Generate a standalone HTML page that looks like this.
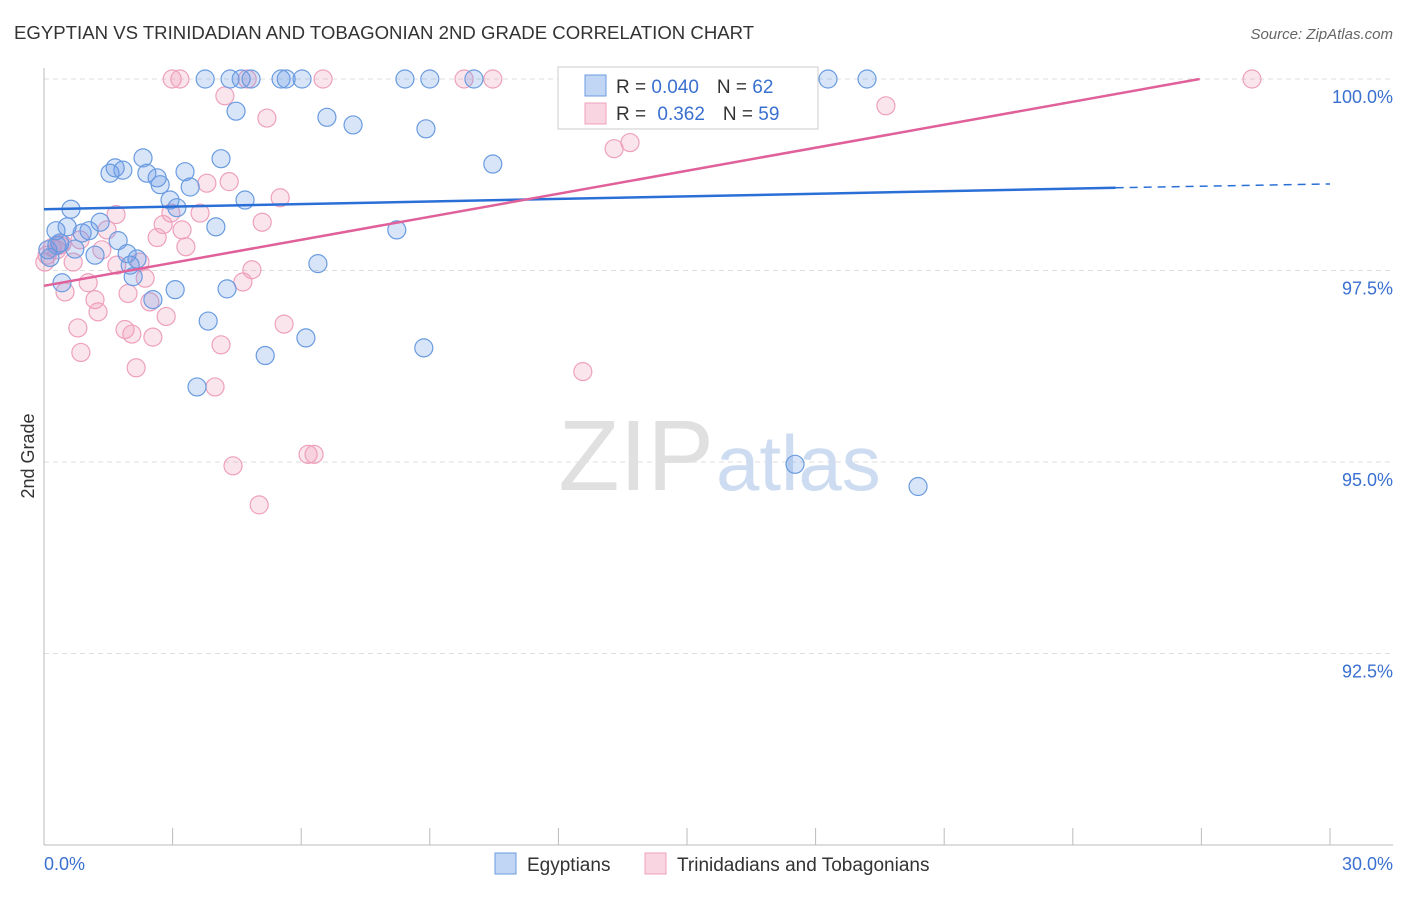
<!DOCTYPE html>
<html><head><meta charset="utf-8">
<style>
body{margin:0;background:#fff;font-family:"Liberation Sans",sans-serif;}
svg text{font-family:"Liberation Sans",sans-serif;}
</style></head>
<body>
<svg id="chart" width="1406" height="892" viewBox="0 0 1406 892">
<text x="14" y="39" font-size="18.6" fill="#333">EGYPTIAN VS TRINIDADIAN AND TOBAGONIAN 2ND GRADE CORRELATION CHART</text>
<text x="1393" y="39" font-size="15" fill="#666" font-style="italic" text-anchor="end">Source: ZipAtlas.com</text>
<text x="34" y="456" font-size="18" fill="#333" text-anchor="middle" transform="rotate(-90 34 456)">2nd Grade</text>
<g id="grid"></g>
<g id="axes"></g>
<text x="714" y="490" font-size="100" fill="#e0e0e0" font-family="Liberation Serif" text-anchor="end">ZIP</text>
<text x="716" y="490" font-size="78" fill="#cddcf0" text-anchor="start">atlas</text>
<g id="points"></g>
<g id="trends"></g>
<g>
<rect x="558" y="67" width="260" height="62" fill="#fff" stroke="#ccc"/>
<rect x="585" y="75" width="21" height="21" fill="rgba(100,150,230,0.4)" stroke="#6a9be0"/>
<rect x="585" y="103" width="21" height="21" fill="rgba(240,150,180,0.4)" stroke="#eea0bd"/>
<text x="616" y="93" font-size="19" fill="#333">R = <tspan fill="#3a70d0">0.040</tspan><tspan dx="18">N = </tspan><tspan fill="#3a70d0">62</tspan></text>
<text x="616" y="120" font-size="19" fill="#333">R = <tspan dx="6" fill="#3a70d0">0.362</tspan><tspan dx="18">N = </tspan><tspan fill="#3a70d0">59</tspan></text>
</g>
<g>
<rect x="495" y="853" width="21" height="21" fill="rgba(100,150,230,0.4)" stroke="#6a9be0"/>
<text x="527" y="871" font-size="19" fill="#333">Egyptians</text>
<rect x="645" y="853" width="21" height="21" fill="rgba(240,150,180,0.4)" stroke="#eea0bd"/>
<text x="677" y="871" font-size="19" fill="#333">Trinidadians and Tobagonians</text>
</g>
</svg>
<script>
const blueX=[0.37,0.28,0.54,0.63,0.42,0.72,0.89,1.05,1.19,1.31,1.54,1.66,1.84,1.73,2.01,1.94,2.31,2.40,2.64,2.71,2.17,2.08,2.54,2.94,3.10,3.06,3.29,3.41,4.13,3.83,3.57,4.01,4.27,4.69,4.48,4.34,4.60,4.83,3.76,5.16,5.53,5.65,6.02,6.60,7.21,6.11,6.39,8.23,8.42,9.00,8.91,8.86,10.03,10.47,13.46,18.29,19.20,17.52,20.39,0.09,0.14,0.30];
const blueY=[97.86,98.02,98.07,98.30,97.34,97.78,97.99,98.02,97.70,98.13,98.77,98.84,98.81,97.89,97.57,97.72,98.97,98.77,98.71,98.62,97.65,97.42,97.12,98.42,98.32,97.25,98.79,98.59,98.96,96.84,95.98,98.07,97.26,98.42,99.58,100,100,100,100,96.39,100,100,100,99.50,99.40,96.62,97.59,98.03,100,100,99.35,96.49,100,98.89,100,100,100,94.97,94.68,97.77,97.67,97.83];
const pinkX=[0.07,0.19,0.30,0.42,0.68,0.49,0.79,0.86,1.19,1.26,1.03,1.35,1.47,1.68,1.70,1.89,1.96,2.05,2.15,2.24,2.36,2.47,2.54,2.64,2.78,2.85,2.96,3.22,3.31,3.64,3.80,3.99,4.13,4.32,4.22,4.41,5.02,4.64,4.85,5.09,5.20,5.51,5.60,6.16,6.30,2.99,3.17,4.74,6.51,9.80,10.47,12.57,13.30,13.67,19.64,28.18,0.84,0.37,0.02];
const pinkY=[97.70,97.80,97.77,97.85,97.61,97.22,96.75,96.43,97.12,96.96,97.34,97.77,98.03,98.23,97.57,96.73,97.20,96.67,96.23,97.61,97.40,97.09,96.63,97.93,98.10,96.90,98.25,98.03,97.81,98.25,98.64,95.98,96.53,98.66,99.78,94.95,94.44,97.35,97.51,98.13,99.49,98.45,96.80,95.10,95.10,100,100,100,100,100,100,96.18,99.09,99.17,99.65,100,97.90,97.83,97.61];
const blueTrend=[98.30,98.58,98.63];
const pinkTrend=[97.30,100.0];
const yTicks=[100,97.5,95,92.5];
const yTickLabels=["100.0%","97.5%","95.0%","92.5%"];
const xTicks=[0,3,6,9,12,15,18,21,24,27,30];

const L=44,R=1330,T=79,B=845;
const sx=v=>L+(v/30)*(R-L);
const sy=v=>T+(100-v)/10*(B-T);
const NS="http://www.w3.org/2000/svg";
function mk(tag,attrs,parent){const e=document.createElementNS(NS,tag);for(const k in attrs)e.setAttribute(k,attrs[k]);parent.appendChild(e);return e;}
const grid=document.getElementById('grid'),axes=document.getElementById('axes');
yTicks.forEach((v,i)=>{
  const l=mk('line',{x1:L,x2:1393,y1:sy(v),y2:sy(v),stroke:'#ddd','stroke-dasharray':'5,4'},grid);
  
  
  const t=mk('text',{x:1393,y:sy(v)+24,'font-size':18,fill:'#3a70d0','text-anchor':'end'},axes);
  t.textContent=yTickLabels[i];
  
  
});
const ax=mk('line',{x1:L,x2:1393,y1:B,y2:B,stroke:'#bbb'},axes);


const ay=mk('line',{x1:L,x2:L,y1:68,y2:B,stroke:'#bbb'},axes);


xTicks.forEach(v=>{
  const l=mk('line',{x1:sx(v),x2:sx(v),y1:828,y2:B,stroke:'#bbb'},axes);
  
  
});
const x0=mk('text',{x:44,y:870,'font-size':18,fill:'#3a70d0'},axes);x0.textContent='0.0%';


const x1=mk('text',{x:1393,y:870,'font-size':18,fill:'#3a70d0','text-anchor':'end'},axes);x1.textContent='30.0%';



const pts=document.getElementById('points');
pinkX.forEach((x,i)=>{
  const c=mk('circle',{cx:sx(x),cy:sy(pinkY[i]),r:9,fill:'rgba(240,150,180,0.25)',stroke:'#eea0bd','stroke-width':1.2},pts);
  
  
});
blueX.forEach((x,i)=>{
  const c=mk('circle',{cx:sx(x),cy:sy(blueY[i]),r:9,fill:'rgba(100,150,230,0.25)',stroke:'#6a9be0','stroke-width':1.2},pts);
  
  
});
const tr=document.getElementById('trends');
const b1=mk('line',{x1:sx(0),y1:sy(blueTrend[0]),x2:sx(25),y2:sy(blueTrend[1]),stroke:'#2a6fd6','stroke-width':2.5},tr);


const b2=mk('line',{x1:sx(25),y1:sy(blueTrend[1]),x2:sx(30),y2:sy(blueTrend[2]),stroke:'#2a6fd6','stroke-width':1.5,'stroke-dasharray':'8,6'},tr);


const p1=mk('line',{x1:sx(0),y1:sy(pinkTrend[0]),x2:sx(26.96),y2:sy(pinkTrend[1]),stroke:'#e0609a','stroke-width':2.5},tr);


</script>
</body></html>
